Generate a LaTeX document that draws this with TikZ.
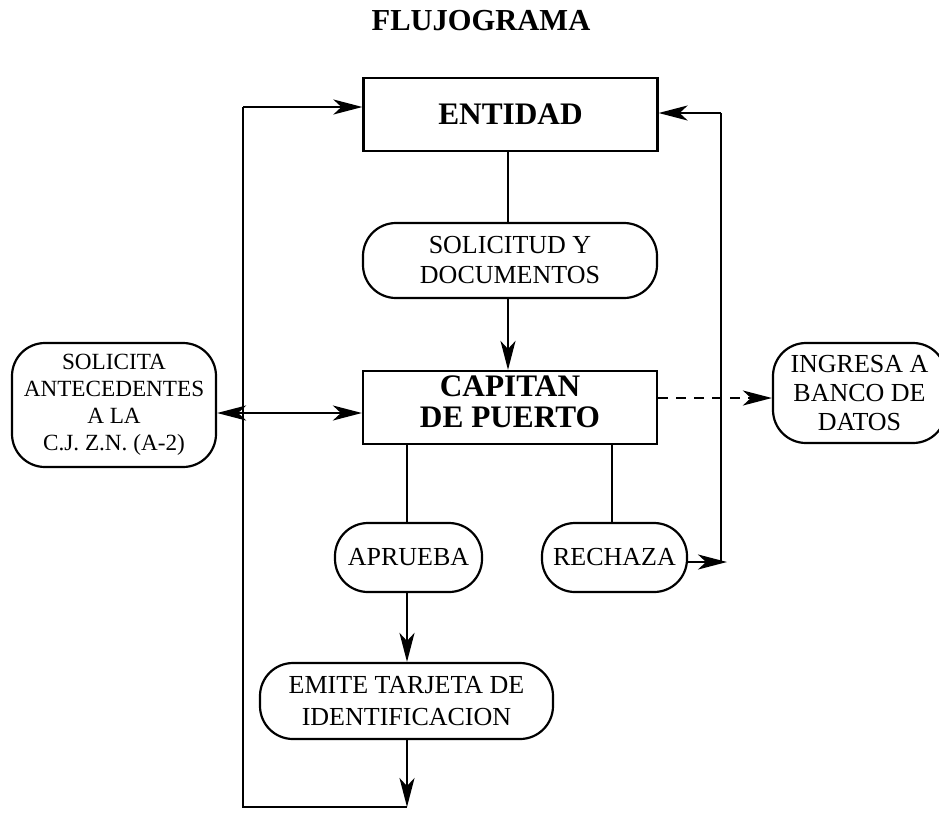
\documentclass[tikz,border=0pt]{standalone}
\usepackage{fontspec}
\setmainfont{Liberation Serif}
\usetikzlibrary{arrows.meta}
\begin{document}
\begin{tikzpicture}[x=1pt,y=-1pt,
  lw/.style={line width=2.2pt},
  boxnode/.style={draw,lw,rectangle,inner sep=0pt,minimum width=294pt,minimum height=73pt,align=center,font=\fontsize{31.3}{31}\selectfont\bfseries},
  termnode/.style={draw,lw,rounded corners=33pt,inner sep=0pt,align=center,font=\fontsize{26}{30}\selectfont},
  conn/.style={lw},
  tipstyle/.style={},
  arr/.style={lw,-{Stealth[length=29pt,width=15pt,inset=8pt]}},
  arrtwo/.style={lw,{Stealth[length=29pt,width=15pt,inset=8pt]}-{Stealth[length=29pt,width=15pt,inset=8pt]}}
]
\useasboundingbox (0,0) rectangle (939,812);
\node (title) at (481,21) {\fontsize{30.5}{36}\selectfont\bfseries FLUJOGRAMA};
\node[boxnode] (entidad) at (510.5,114.5) {ENTIDAD};
\node[termnode,minimum width=294pt,minimum height=75pt] (solic) at (510,260.5) {SOLICITUD Y\\DOCUMENTOS};
\node[boxnode] (capitan) at (510,407.5) {CAPITAN\\DE PUERTO\rule[-12pt]{0pt}{12pt}};
\node[termnode,minimum width=204pt,minimum height=124pt,font=\fontsize{23.2}{27}\selectfont] (solicita) at (114,405) {SOLICITA\\ANTECEDENTES\\A LA\\C.J. Z.N. (A-2)};
\node[termnode,minimum width=173pt,minimum height=100pt,font=\fontsize{26}{29}\selectfont] (ingresa) at (859.5,393) {INGRESA A\\BANCO DE\\DATOS};
\node[termnode,minimum width=147pt,minimum height=69pt] (aprueba) at (408.5,557.5) {APRUEBA};
\node[termnode,minimum width=145pt,minimum height=69pt] (rechaza) at (614.5,557.5) {RECHAZA};
\node[termnode,minimum width=293pt,minimum height=76pt,font=\fontsize{26}{32}\selectfont] (emite) at (406.5,701) {EMITE TARJETA DE\\IDENTIFICACION};
% coordinates
\coordinate (bot) at (407,807);
\coordinate (lb) at (243,807);
\coordinate (lt) at (243,107);
\coordinate (rc) at (721,562);
\coordinate (rtip) at (727,562);
\coordinate (rt) at (721,113);
\coordinate (dy) at (0,413);
\coordinate (dsh) at (0,398);
% connectors
\draw[conn] (entidad.south -| 508,0) -- (solic.north -| 508,0);
\draw[arr] (solic.south -| 508,0) -- (capitan.north -| 508,0);
\draw[conn] (capitan.south -| 407,0) -- (aprueba.north -| 407,0);
\draw[conn] (capitan.south -| 612,0) -- (rechaza.north -| 612,0);
\draw[arr] (aprueba.south -| 407,0) -- (emite.north -| 407,0);
\draw[arr] (emite.south -| 407,0) -- (bot);
\draw[conn] (bot) -- (lb) -- (lt);
\draw[arr] (lt) -- (lt -| entidad.west);
\draw[arr] (rechaza.east |- rc) -- (rtip);
\draw[conn] (rc) -- (rt);
\draw[arr] (rt) -- (rt -| entidad.east);
\draw[arrtwo] (solicita.east |- dy) -- (capitan.west |- dy);
\draw[arr,dash pattern=on 10pt off 8pt] (capitan.east |- dsh) -- (ingresa.west |- dsh);
\end{tikzpicture}
\end{document}
